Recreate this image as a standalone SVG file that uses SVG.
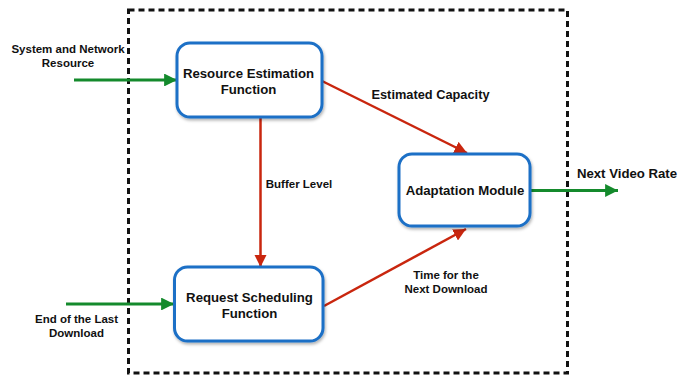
<svg xmlns="http://www.w3.org/2000/svg" width="689" height="379" viewBox="0 0 689 379">
  <style>
    .node rect { fill: #ffffff; stroke: #1c6fc6; stroke-width: 3; filter: url(#shadow); }
    .label { font-family: "Liberation Sans", Arial, sans-serif; font-weight: bold; font-size: 13.2px; fill: #111111; text-anchor: middle; }
    .small { font-size: 11.5px; }
    .mid { font-size: 12.8px; }
    .red { stroke: #c9260e; stroke-width: 2.5; fill: none; marker-end: url(#redHead); }
    .green { stroke: #148a2c; stroke-width: 3; fill: none; marker-end: url(#greenHead); }
  </style>
  <defs>
    <filter id="shadow" x="-10%" y="-10%" width="125%" height="130%">
      <feDropShadow dx="1" dy="2" stdDeviation="1.5" flood-color="#000000" flood-opacity="0.3"/>
    </filter>
    <marker id="redHead" viewBox="0 0 10 10" refX="10" refY="5" markerWidth="5" markerHeight="5" markerUnits="strokeWidth" orient="auto">
      <path d="M0,0 L10,5 L0,10 z" fill="#c9260e"/>
    </marker>
    <marker id="greenHead" viewBox="0 0 10 10" refX="10" refY="5" markerWidth="4.3" markerHeight="4.3" markerUnits="strokeWidth" orient="auto">
      <path d="M0,0 L10,5 L0,10 z" fill="#148a2c"/>
    </marker>
  </defs>

  <rect width="689" height="379" fill="#ffffff"/>

  <!-- system boundary -->
  <rect x="128.5" y="10" width="439" height="363" fill="none" stroke="#111111" stroke-width="3" stroke-dasharray="6,4"/>

  <g id="connectors">
    <line class="green" x1="74" y1="80" x2="177" y2="80"/>
    <line class="green" x1="66" y1="304" x2="174" y2="304"/>
    <line class="green" x1="531" y1="190.5" x2="618" y2="190.5"/>
    <line class="red" x1="260.5" y1="117" x2="260.5" y2="267"/>
    <line class="red" x1="322" y1="81" x2="467" y2="153"/>
    <line class="red" x1="324" y1="306" x2="466" y2="229"/>
  </g>

  <g id="resource-estimation" class="node">
    <rect x="177" y="43" width="145" height="74" rx="13"/>
    <text class="label" x="248.5" y="78">Resource Estimation</text>
    <text class="label" x="248.5" y="94">Function</text>
  </g>

  <g id="request-scheduling" class="node">
    <rect x="174.5" y="267" width="148.5" height="74" rx="13"/>
    <text class="label" x="249.5" y="301.5">Request Scheduling</text>
    <text class="label" x="249.5" y="317.5">Function</text>
  </g>

  <g id="adaptation-module" class="node">
    <rect x="399" y="154" width="131" height="72" rx="13"/>
    <text class="label" x="465" y="195">Adaptation Module</text>
  </g>

  <g id="labels">
    <text class="label small" x="68" y="53">System and Network</text>
    <text class="label small" x="68" y="67">Resource</text>
    <text class="label small" x="76.5" y="323">End of the Last</text>
    <text class="label small" x="76.5" y="337">Download</text>
    <text class="label mid" x="430.5" y="98.5">Estimated Capacity</text>
    <text class="label small" x="299" y="188">Buffer Level</text>
    <text class="label small" x="446" y="279">Time for the</text>
    <text class="label small" x="446" y="293">Next Download</text>
    <text class="label" x="627" y="177.5">Next Video Rate</text>
  </g>
</svg>
